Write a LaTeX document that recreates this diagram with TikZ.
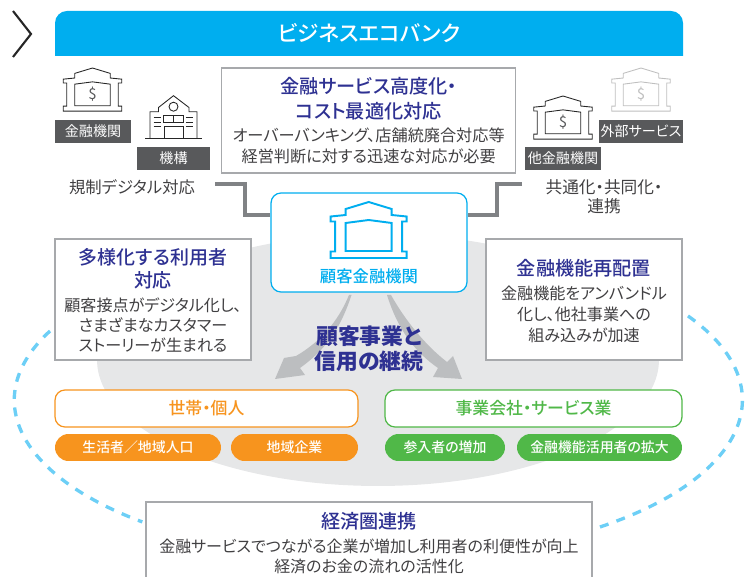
\documentclass[tikz,border=0pt]{standalone}
\usepackage{fontspec}
\setmainfont[RawFeature=+palt]{Noto Sans CJK JP}
\newfontfamily\jpmed[RawFeature=+palt]{Noto Sans CJK JP Medium}
\usetikzlibrary{positioning}
\definecolor{navytext}{HTML}{2E3192}
\definecolor{bodytext}{HTML}{414042}
\definecolor{bannerblue}{HTML}{00AEEF}
\definecolor{dashblue}{HTML}{6DCFF6}
\definecolor{labelgrey}{HTML}{58595B}
\definecolor{boxgrey}{HTML}{A7A9AC}
\definecolor{linkgrey}{HTML}{808285}
\definecolor{backgrey}{HTML}{E6E7E8}
\definecolor{arrowgrey}{HTML}{BCBEC0}
\definecolor{orangefill}{HTML}{F7941E}
\definecolor{greenfill}{HTML}{50B848}
\tikzset{
	infobox/.style={draw=boxgrey, fill=white, line width=0.6pt, inner sep=0pt},
	headtext/.style={text=navytext, align=center, inner sep=0pt, font=\jpmed\fontsize{10.9}{14}\selectfont},
	bodyline/.style={text=bodytext, align=center, inner sep=0pt, font=\fontsize{9.15}{11.5}\selectfont},
	tagbox/.style={fill=labelgrey, text=white, inner sep=0pt, minimum height=0.46cm, font=\fontsize{8}{10}\selectfont},
	groupbox/.style={draw=#1, fill=white, text=#1, line width=0.7pt, rounded corners=0.2cm, inner sep=0pt, minimum height=0.74cm, font=\jpmed\fontsize{9.6}{10}\selectfont},
	pillbox/.style={fill=#1, text=white, rounded corners=0.27cm, inner sep=0pt, minimum height=0.54cm, font=\jpmed\fontsize{7.9}{10}\selectfont},
	linkline/.style={draw=linkgrey, line width=2pt},
	dashline/.style={draw=dashblue, line width=1.9pt, dash pattern=on 0.18cm off 0.17cm},
	dollartext/.style={inner sep=0pt, font=\fontsize{#1}{10}\selectfont},
	pics/bankicon/.style={code={
		\draw[pic actions, line join=miter] (0,0) -- (-23,7) -- (-23,13) -- (-38,14.5) -- (-38,19.5) -- (-33.5,19.5) -- (-33.5,49.5) -- (-38,49.5) -- (-38,56) -- (38,56) -- (38,49.5) -- (33.5,49.5) -- (33.5,19.5) -- (38,19.5) -- (38,14.5) -- (23,13) -- (23,7) -- cycle;
		\draw[pic actions] (-23,21) -- (0,18) -- (23,21) -- (23,49) -- (-23,49) -- cycle;
	}},
}
\begin{document}
\begin{tikzpicture}[x=0.02cm, y=-0.02cm]
	\useasboundingbox (0,0) rectangle (751,577);
	\fill[backgrey] (378,360) ellipse[x radius=5.62cm, y radius=2.52cm];
	\draw[dashline] (50,331) arc[start angle=154.4, end angle=229.6, x radius=7.28cm, y radius=3.2cm];
	\draw[dashline] (600,527) arc[start angle=-52.5, end angle=33, x radius=7.28cm, y radius=3.2cm];

	\draw[line width=1.2pt, black!85] (13,11) -- (31,34) -- (13,57);
	\fill[bannerblue] (55,56) [rounded corners=0.24cm] -- (55,11) -- (683,11) [sharp corners] -- (683,56) -- cycle;
	\node[text=white, inner sep=0pt, font=\jpmed\fontsize{12.3}{14}\selectfont] (banner) at (369,33.5) {ビジネスエコバンク};

	\pic[draw=black!85, line width=0.5pt, scale=0.77] at (92.5,68) {bankicon};
	\node[dollartext=8.5, text=labelgrey] (dollarA) at (92.5,94) {\$};
	\node[tagbox, minimum width=1.52cm] (tagA) at (93,131.5) {金融機関};
	\pic[draw=black!85, line width=0.5pt, scale=0.77] at (563,96) {bankicon};
	\node[dollartext=8.5, text=labelgrey] (dollarB) at (563,122) {\$};
	\node[tagbox, minimum width=1.52cm] (tagB) at (563,158.5) {他金融機関};
	\pic[draw=black!25, line width=0.5pt, scale=0.77] at (641,68) {bankicon};
	\node[dollartext=8.5, text=black!25] (dollarC) at (641,94) {\$};
	\node[tagbox, minimum width=1.68cm] (tagC) at (641,131.5) {外部サービス};

	\draw[line width=0.5pt, black!85] (145,138) -- (201.7,138);
	\draw[line width=0.5pt, black!85] (150,138) -- (150,111.7) -- (158.5,111.7) -- (158.5,107.5) -- (173.5,95.7) -- (189,107.5) -- (189,111.7) -- (197,111.7) -- (197,138);
	\draw[line width=0.5pt, black!85] (173.5,106.7) circle[radius=0.09cm];
	\draw[line width=0.5pt, black!85] (163.5,115) rectangle (183.5,122.3);
	\draw[line width=0.5pt, black!85] (173.5,115) -- (173.5,122.3);
	\draw[line width=0.5pt, black!85] (164.3,138) -- (164.3,126) -- (183.3,126) -- (183.3,138);
	\foreach \rowy in {117.7,122,126.3} {
		\draw[line width=0.5pt, black!85] (153.5,\rowy) -- (161,\rowy);
		\draw[line width=0.5pt, black!85] (185.7,\rowy) -- (193.3,\rowy);
	}
	\node[tagbox, minimum width=1.46cm] (tagD) at (173.5,158.5) {機構};

	\node[bodyline, font=\fontsize{9.3}{11.5}\selectfont] (leftnote) at (132,187) {規制デジタル対応};
	\node[bodyline, font=\fontsize{9.5}{10.8}\selectfont] (rightnote) at (604,196.5) {共通化・共同化・\\連携};

	\node[infobox, minimum width=5.89cm, minimum height=2.1cm] (topbox) at (368.7,120.5) {};
	\node[headtext] (tophead) at (368.7,98.5) {金融サービス高度化・\\コスト最適化対応};
	\node[bodyline, font=\fontsize{9.2}{11.9}\selectfont] (topbody) at (368.7,145.5) {オーバーバンキング、店舗統廃合対応等\\経営判断に対する迅速な対応が必要};

	\node[draw=bannerblue, fill=white, line width=0.7pt, rounded corners=0.2cm, minimum width=3.92cm, minimum height=1.98cm, inner sep=0pt] (centerbox) at (369,242.5) {};
	\coordinate (leftlink) at (215,184);
	\coordinate (leftknee) at (245,215);
	\coordinate (rightlink) at (522,184);
	\coordinate (rightknee) at (497,215);
	\draw[linkline] (leftlink) -| (leftknee) -- (centerbox.west |- leftknee);
	\draw[linkline] (rightlink) -| (rightknee) -- (centerbox.east |- rightknee);
	\pic[draw=bannerblue, line width=1.1pt] at (368.7,202) {bankicon};
	\node[text=bannerblue, inner sep=0pt, font=\jpmed\fontsize{9.3}{10}\selectfont] (centerlabel) at (369,276) {顧客金融機関};

	\node[infobox, minimum width=3.92cm, minimum height=2.42cm] (leftbox) at (153,299.5) {};
	\node[headtext, font=\jpmed\fontsize{10.8}{13}\selectfont] (lefthead) at (153,268.5) {多様化する利用者\\対応};
	\node[bodyline] (leftbody) at (153,325) {顧客接点がデジタル化し、\\さまざまなカスタマー\\ストーリーが生まれる};
	\node[infobox, minimum width=3.92cm, minimum height=2.42cm] (rightbox) at (584,299.5) {};
	\node[headtext] (righthead) at (584,268) {金融機能再配置};
	\node[bodyline, font=\fontsize{9.15}{11.9}\selectfont] (rightbody) at (584,314) {金融機能をアンバンドル\\化し、他社事業への\\組み込みが加速};

	\fill[arrowgrey] (349,295) -- (351.5,295) .. controls (340,330) and (325,350) .. (300,368) -- (305,375) -- (275,379) -- (284,358) -- (296,356) .. controls (320,342) and (338,322) .. cycle;
	\fill[arrowgrey] (391,295) -- (387,295) .. controls (398,330) and (415,352) .. (438,368) -- (433,377) -- (462,379) -- (453,356) -- (447,362) .. controls (425,345) and (405,320) .. cycle;
	\node[text=navytext, align=center, inner sep=0pt, font=\bfseries\fontsize{12.4}{14.2}\selectfont] (middlehead) at (369,348.5) {顧客事業と\\信用の継続};

	\node[groupbox=orangefill, minimum width=6.06cm] (householdbox) at (206.5,408.5) {世帯・個人};
	\node[groupbox=greenfill, minimum width=5.94cm] (companybox) at (533.5,408.5) {事業会社・サービス業};
	\node[pillbox=orangefill, minimum width=3.32cm] (pillA) at (138,447.5) {生活者／地域人口};
	\node[pillbox=orangefill, minimum width=2.54cm] (pillB) at (294.5,447.5) {地域企業};
	\node[pillbox=greenfill, minimum width=2.4cm] (pillC) at (445,447.5) {参入者の増加};
	\node[pillbox=greenfill, minimum width=3.3cm] (pillD) at (599.5,447.5) {金融機能活用者の拡大};

	\fill[white] (146,502) rectangle (592,577);
	\draw[draw=boxgrey, line width=0.6pt] (146,577) |- (592,502) -- (592,577);
	\node[headtext] (bottomhead) at (369,521) {経済圏連携};
	\node[bodyline, font=\fontsize{9.1}{11.4}\selectfont] (bottombody) at (369,556) {金融サービスでつながる企業が増加し利用者の利便性が向上\\経済のお金の流れの活性化};
\end{tikzpicture}
\end{document}
